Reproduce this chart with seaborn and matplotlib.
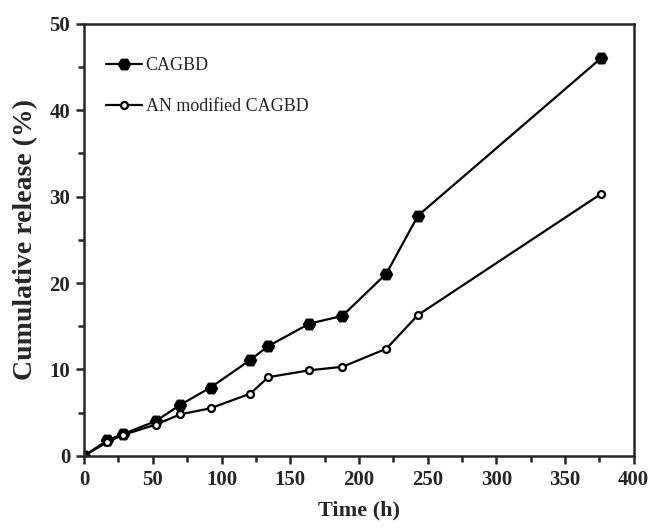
import matplotlib
matplotlib.use("Agg")
import matplotlib.pyplot as plt
import seaborn as sns
import pandas as pd
from matplotlib.ticker import MultipleLocator

time_h = [0, 17, 28, 52, 70, 92, 121, 134, 164, 188, 220, 243, 376]
cagbd = [0, 1.8, 2.5, 4.0, 5.9, 7.9, 11.1, 12.7, 15.3, 16.2, 21.1, 27.8, 46.0]
an_mod = [0, 1.6, 2.4, 3.6, 4.8, 5.5, 7.2, 9.1, 9.9, 10.3, 12.4, 16.3, 30.3]
series_names = ["CAGBD", "AN modified CAGBD"]

sns.set_style("ticks")
plt.rcParams['font.family'] = ['Liberation Serif', 'DejaVu Serif']

fig = plt.figure(figsize=(6.52, 5.30), dpi=100)
ax = fig.add_axes([0.129, 0.140, 0.843, 0.815])

df1 = pd.DataFrame({"t": time_h, "r": cagbd})
df2 = pd.DataFrame({"t": time_h, "r": an_mod})
sns.lineplot(data=df1, x="t", y="r", ax=ax, color="black", lw=1.6,
             marker="H", markersize=9, markerfacecolor="black",
             markeredgecolor="black", label=series_names[0])
sns.lineplot(data=df2, x="t", y="r", ax=ax, color="black", lw=1.6,
             marker="o", markersize=5, markerfacecolor="white",
             markeredgecolor="black", markeredgewidth=1.6,
             label=series_names[1])

ax.set_xlim(0, 400)
ax.set_ylim(0, 50)
ax.xaxis.set_major_locator(MultipleLocator(50))
ax.xaxis.set_minor_locator(MultipleLocator(25))
ax.yaxis.set_major_locator(MultipleLocator(10))
ax.yaxis.set_minor_locator(MultipleLocator(5))
ax.tick_params(which="major", length=6, width=1.8, direction="out",
               labelsize=15, pad=4)
ax.tick_params(which="minor", length=4, width=1.8, direction="out")
for lab in ax.get_xticklabels() + ax.get_yticklabels():
    lab.set_fontweight("bold")
for s in ax.spines.values():
    s.set_linewidth(1.8)
    s.set_visible(True)

ax.set_xlabel("Time (h)", fontsize=16, fontweight="bold", labelpad=8)
ax.set_ylabel("Cumulative release (%)", fontsize=20, fontweight="bold", labelpad=8)

leg = ax.legend(loc="upper left", frameon=False, fontsize=13,
                bbox_to_anchor=(0.01, 0.96), handlelength=2.0,
                handletextpad=0.2, labelspacing=1.3)

fig.savefig("out.png", dpi=100)
